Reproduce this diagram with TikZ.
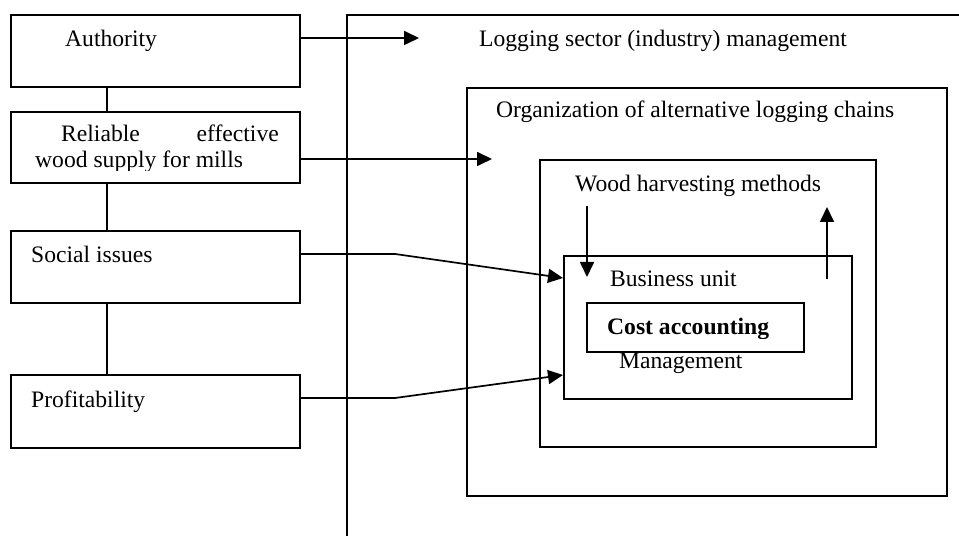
\documentclass[tikz,border=0pt]{standalone}
\usepackage{fontspec}
\setmainfont{Liberation Serif}
\usetikzlibrary{arrows.meta}
\begin{document}
\begin{tikzpicture}[x=1bp,y=-1bp,
  box/.style={draw, line width=1.7bp, rectangle, inner sep=0pt, anchor=north west},
  lbl/.style={anchor=base west, inner sep=0pt, font=\fontsize{23.6bp}{27bp}\selectfont},
  ln/.style={line width=1.7bp},
  arr/.style={line width=1.7bp, -{Triangle[length=15bp,width=14bp]}}]
\useasboundingbox (0,0) rectangle (959,536);

% left boxes
\node[box, minimum width=289bp, minimum height=72bp] (auth) at (10,14) {};
\node[box, minimum width=289bp, minimum height=71bp] (rel)  at (10,111) {};
\node[box, minimum width=289bp, minimum height=72bp] (soc)  at (10,230) {};
\node[box, minimum width=289bp, minimum height=73bp] (prof) at (10,374) {};

% nested boxes
\coordinate (fbot) at (347,536);
\coordinate (ftl) at (347,15);
\coordinate (ftr) at (959,15);
\draw[ln] (fbot) -- (ftl) -- (ftr);
\node[box, minimum width=480bp, minimum height=408bp] (org)  at (466,87) {};
\node[box, minimum width=336bp, minimum height=287bp] (wood) at (539,159) {};
\node[box, minimum width=288bp, minimum height=143bp] (bus)  at (563,255) {};
\node[box, minimum width=217bp, minimum height=49bp]  (cost) at (586,302) {};

% vertical links between left boxes
\draw[ln] ([xshift=97bp]auth.south west) -- ([xshift=97bp]rel.north west);
\draw[ln] ([xshift=97bp]rel.south west) -- ([xshift=97bp]soc.north west);
\draw[ln] ([xshift=97bp]soc.south west) -- ([xshift=97bp]prof.north west);

% labels
\node[lbl] (tauth) at (65,47) {Authority};
\begin{scope}
\clip (10,111) rectangle (299,171);
\node[lbl] (trel1) at (61,142) {Reliable};
\node[lbl, anchor=base east] (trel2) at (279,142) {effective};
\node[lbl] (trel3) at (35,168) {wood supply for mills};
\end{scope}
\node[lbl] (tsoc) at (31,263) {Social issues};
\node[lbl] (tprof) at (31,407) {Profitability};
\node[lbl] (tlog) at (479,47) {Logging sector (industry) management};
\node[lbl] (torg) at (496,118) {Organization of alternative logging chains};
\node[lbl] (twood) at (575,192) {Wood harvesting methods};
\node[lbl] (tbus) at (610,287) {Business unit};
\begin{scope}
\clip (586,302) rectangle (803,338.5);
\node[lbl, font=\fontsize{23.6bp}{27bp}\selectfont\bfseries] (tcost) at (607,335) {Cost accounting};
\end{scope}
\node[lbl] (tmgmt) at (619,369) {Management};

% arrows
\coordinate (aend) at (419,38);
\draw[arr] (auth.east |- aend) -- (aend);
\coordinate (rend) at (492,159);
\draw[arr] (rel.east |- rend) -- (rend);
\coordinate (sbend) at (395,254);
\coordinate (stip) at (563,278);
\draw[arr] (soc.east |- sbend) -- (sbend) -- (bus.west |- stip);
\coordinate (pbend) at (395,398);
\coordinate (ptip) at (563,375);
\draw[arr] (prof.east |- pbend) -- (pbend) -- (bus.west |- ptip);
\coordinate (dtop) at (587,206);
\coordinate (dbot) at (587,277);
\draw[arr] (dtop) -- (dbot);
\coordinate (ubot) at (827,279);
\coordinate (utop) at (827,207);
\draw[arr] (ubot) -- (utop);
\end{tikzpicture}
\end{document}
